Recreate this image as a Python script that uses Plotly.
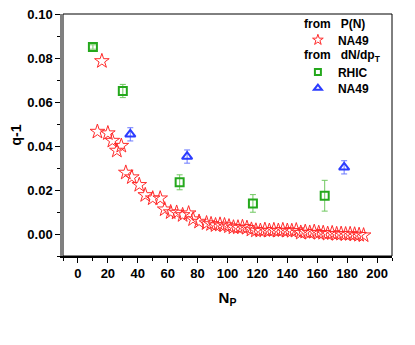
import plotly.graph_objects as go

# --- data: q-1 vs N_P ---
pn_na49_np = [13, 16, 20, 23, 26, 29, 32, 36, 41, 45, 50, 55, 58, 62, 66, 70, 74, 77, 81,
              86, 89, 92, 95, 98, 101, 104, 107, 110, 113, 116, 119, 122, 125, 128, 131,
              134, 137, 140, 143, 146, 149, 152, 155, 158, 161, 164, 167, 170, 173, 176,
              179, 182, 185, 188, 191]
pn_na49_q = [0.0465, 0.0786, 0.0458, 0.0424, 0.0379, 0.0401, 0.0279, 0.0258, 0.0223, 0.0177,
             0.0162, 0.0162, 0.0112, 0.0099, 0.0097, 0.0086, 0.0094, 0.0067, 0.0056,
             0.0049, 0.0045, 0.0040, 0.0043, 0.0040, 0.0035, 0.0030, 0.0030, 0.0032,
             0.0028, 0.0020, 0.0016, 0.0015, 0.0019, 0.0015, 0.0018, 0.0015, 0.0018,
             0.0015, 0.0014, 0.0017, 0.0006, 0.0010, 0.0006, 0.0010, 0.0005, 0.0005,
             0.0001, 0.0004, 0.0000, 0.0001, -0.0001, 0.0000, -0.0002, -0.0004, -0.0006]

rhic_np = [10, 30, 68, 117, 165]
rhic_q = [0.085, 0.065, 0.0235, 0.0139, 0.0174]
rhic_err = [0.001, 0.003, 0.0034, 0.004, 0.007]

na49_np = [35, 73, 178]
na49_q = [0.0453, 0.0352, 0.0303]
na49_err = [0.003, 0.003, 0.003]

y_ticks = [0.00, 0.02, 0.04, 0.06, 0.08, 0.10]

FONT = "Liberation Sans, Arial, sans-serif"
C_RED = "#ff2a2a"
C_GREEN = "#24a81c"
C_GREEN_ERR = "#70c860"
C_BLUE = "#2b3cff"
C_BLUE_ERR = "#6a78ff"
NB = "\u00a0"

fig = go.Figure()

fig.add_trace(go.Scatter(
    x=pn_na49_np, y=pn_na49_q, mode="markers", showlegend=False,
    marker=dict(symbol="star-open", size=11, color=C_RED, line=dict(width=1, color=C_RED)),
))
fig.add_trace(go.Scatter(
    x=rhic_np, y=rhic_q, mode="markers", showlegend=False,
    marker=dict(symbol="square-open", size=8, color=C_GREEN, line=dict(width=2, color=C_GREEN)),
    error_y=dict(type="data", array=rhic_err, color=C_GREEN_ERR, thickness=1, width=3),
))
fig.add_trace(go.Scatter(
    x=na49_np, y=na49_q, mode="markers", showlegend=False,
    marker=dict(symbol="triangle-up-open", size=9, color=C_BLUE, line=dict(width=2, color=C_BLUE)),
    error_y=dict(type="data", array=na49_err, color=C_BLUE_ERR, thickness=1, width=3),
))

# legend entries, one legend per row so the rows can be placed exactly
legend_items = [
    ("NA49", "legend", "star-open", 8, C_RED, 1, 0.893),
    ("RHIC", "legend2", "square-open", 6, C_GREEN, 2, 0.760),
    ("NA49", "legend3", "triangle-up-open", 7, C_BLUE, 2, 0.694),
]
legend_layout = {}
for name, lg, sym, sz, col, lw, ly in legend_items:
    fig.add_trace(go.Scatter(
        x=[None], y=[None], mode="markers", name=name, legend=lg,
        marker=dict(symbol=sym, size=sz, color=col, line=dict(width=lw, color=col)),
    ))
    legend_layout[lg] = dict(
        x=0.714, y=ly, xanchor="left", yanchor="middle",
        bgcolor="rgba(0,0,0,0)", font=dict(size=12, family=FONT, weight="bold"),
    )

for txt, ty in [(f"from{NB*3}P(N)", 0.959), (f"from{NB*3}dN/dp<sub>T</sub>", 0.826)]:
    fig.add_annotation(
        text=txt, xref="paper", yref="paper", x=0.727, y=ty, xanchor="left",
        yanchor="middle", showarrow=False,
        font=dict(size=12, family=FONT, weight="bold", color="black"),
    )

# frame (top / right)
fig.add_shape(type="rect", xref="paper", yref="paper", x0=0, x1=1, y0=0, y1=1,
              line=dict(color="black", width=1), layer="below")

fig.update_xaxes(
    range=[-10, 210], dtick=20, tick0=0, ticks="outside", ticklen=5, tickwidth=1,
    tickcolor="black", showline=True, linecolor="black", linewidth=1.5,
    showgrid=False, zeroline=False, automargin=False, ticklabeloverflow="allow",
    minor=dict(dtick=10, tick0=0, ticks="outside", ticklen=3, tickcolor="black"),
    title=dict(text="N<sub>P</sub>", font=dict(size=15, family=FONT, weight="bold"), standoff=12),
    tickfont=dict(size=13, family=FONT, weight="bold", color="black"),
)
fig.update_yaxes(
    range=[-0.01, 0.10], tickmode="array", tickvals=y_ticks,
    ticktext=[f"{v:.2f}" for v in y_ticks], ticks="outside", ticklen=5,
    tickwidth=1, tickcolor="black", showline=True, linecolor="#808080", linewidth=2.5,
    showgrid=False, zeroline=False, automargin=False, ticklabeloverflow="allow",
    minor=dict(dtick=0.01, tick0=0, ticks="outside", ticklen=3, tickcolor="black"),
    title=dict(text="q-1", font=dict(size=14, family=FONT, weight="bold"), standoff=8),
    tickfont=dict(size=13, family=FONT, weight="bold", color="black"),
)

# page body adds 8px offset, so the figure is 8px smaller than the window
fig.update_layout(
    width=407, height=337,
    margin=dict(l=55, r=23, t=6, b=89),
    plot_bgcolor="white", paper_bgcolor="white",
    font=dict(family=FONT, color="black"),
    **legend_layout,
)

fig.write_html("out.html")
